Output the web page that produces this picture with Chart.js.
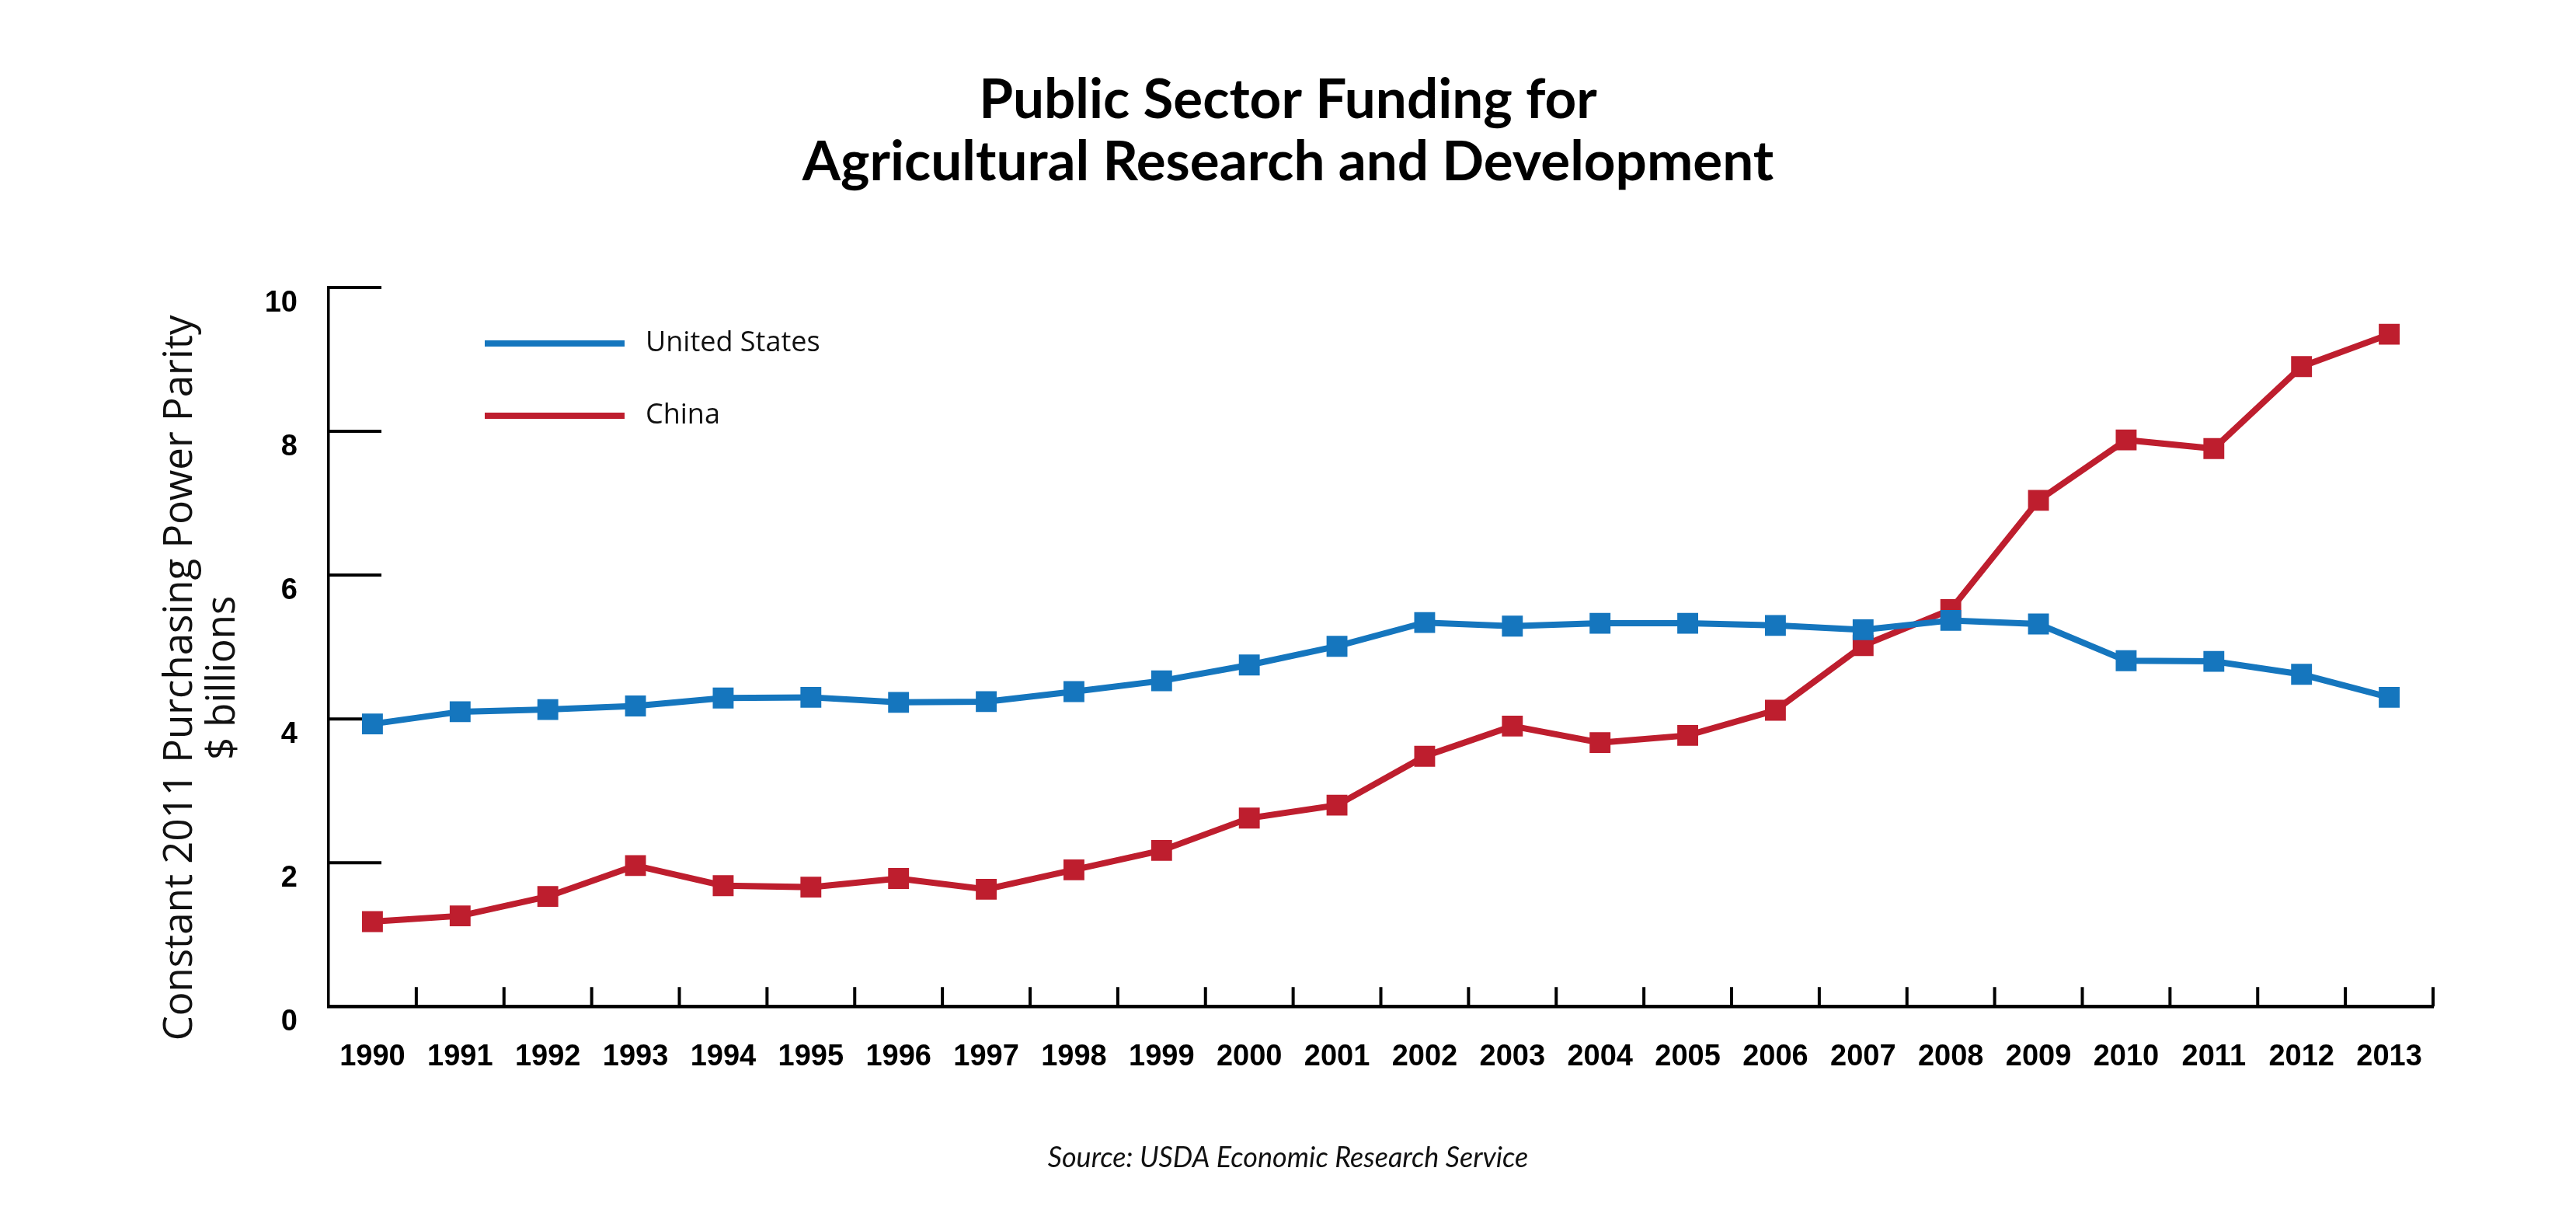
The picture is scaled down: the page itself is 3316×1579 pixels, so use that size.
<!DOCTYPE html>
<html>
<head>
<meta charset="utf-8">
<script src="https://cdn.jsdelivr.net/npm/chart.js@4.4.1/dist/chart.umd.min.js"></script>
<style>
  html, body { margin: 0; padding: 0; background: #fff; }
  #wrap { width: 3316px; height: 1579px; }
</style>
</head>
<body>
<div id="wrap"><canvas id="chart"></canvas></div>
<script>
// Public sector agricultural R&D funding, constant 2011 PPP $ billions
const YEARS = ["1990", "1991", "1992", "1993", "1994", "1995", "1996", "1997", "1998", "1999", "2000", "2001",
  "2002", "2003", "2004", "2005", "2006", "2007", "2008", "2009", "2010", "2011", "2012", "2013"];
const US = [3.93, 4.10, 4.13, 4.18, 4.29, 4.30, 4.23, 4.24, 4.38, 4.53, 4.75, 5.01,
  5.34, 5.29, 5.33, 5.33, 5.30, 5.24, 5.37, 5.32, 4.81, 4.80, 4.62, 4.30];
const CHINA = [1.18, 1.26, 1.53, 1.96, 1.68, 1.66, 1.78, 1.63, 1.90, 2.17, 2.62, 2.80,
  3.48, 3.90, 3.67, 3.77, 4.12, 5.02, 5.52, 7.04, 7.88, 7.76, 8.90, 9.35];
const SERIES = ["United States", "China"];
const Y_TICKS = [0, 2, 4, 6, 8, 10];

const BLUE = "#1576be";
const RED = "#be1e2e";
const LABEL_FONT = { family: "Liberation Sans, Arial, sans-serif", size: 38, weight: "bold", lineHeight: 1.2 };

// short tick marks pointing into the plot, under the lines
const innerTicks = {
  id: "innerTicks",
  beforeDatasetsDraw(chart) {
    const { ctx, chartArea: a, scales: { x, y } } = chart;
    ctx.save();
    ctx.strokeStyle = "#000";
    ctx.lineWidth = 4;
    ctx.beginPath();
    Y_TICKS.forEach((v) => {
      if (v === 0) return;
      const py = y.getPixelForValue(v);
      ctx.moveTo(a.left, py); ctx.lineTo(a.left + 68, py);
    });
    for (let i = 1; i <= YEARS.length; i++) {
      const px = x.getPixelForValue(i - 0.5);
      ctx.moveTo(px, a.bottom); ctx.lineTo(px, a.bottom - 25);
    }
    ctx.stroke();
    ctx.restore();
  },
};

// legend drawn inside the top-left of the plot
const insideLegend = {
  id: "insideLegend",
  afterDraw(chart) {
    const { ctx, chartArea: a } = chart;
    ctx.save();
    chart.data.datasets.forEach((ds, i) => {
      const ly = a.top + 72 + i * 93;
      ctx.strokeStyle = ds.borderColor;
      ctx.lineWidth = 8;
      ctx.beginPath();
      ctx.moveTo(a.left + 201, ly); ctx.lineTo(a.left + 381, ly);
      ctx.stroke();
      ctx.fillStyle = "#111";
      ctx.font = "36px 'Open Sans'";
      ctx.textBaseline = "middle";
      ctx.fillText(ds.label, a.left + 408, ly);
    });
    ctx.restore();
  },
};

const series = (label, data, color) => ({
  label, data, borderColor: color, backgroundColor: color, borderWidth: 8,
  pointStyle: "rect", pointRadius: 19, pointBorderWidth: 0, pointBackgroundColor: color, tension: 0,
});

new Chart(document.getElementById("chart"), {
  type: "line",
  data: {
    labels: YEARS,
    datasets: [series(SERIES[0], US, BLUE), series(SERIES[1], CHINA, RED)],
  },
  options: {
    responsive: true, maintainAspectRatio: false, animation: false,
    // symmetric side padding keeps title and source centred on the page
    layout: { padding: { left: 184, right: 184, top: 0, bottom: 40 } },
    plugins: {
      legend: { display: false },
      tooltip: { enabled: false },
      title: {
        display: true, color: "#000",
        text: ["Public Sector Funding for", "Agricultural Research and Development"],
        font: { family: "Lato", size: 71, weight: "bold", lineHeight: 1.127 },
        padding: { top: 89, bottom: 121 },
      },
      subtitle: {
        display: true, position: "bottom", color: "#111",
        text: "Source: USDA Economic Research Service",
        font: { family: "Lato", size: 36, style: "italic", lineHeight: 1.2 },
        padding: { top: 42, bottom: 27 },
      },
    },
    scales: {
      x: {
        offset: true,
        grid: { display: false, drawTicks: false },
        border: { display: true, color: "#000", width: 4.5 },
        ticks: { color: "#000", font: LABEL_FONT, padding: 43, autoSkip: false, maxRotation: 0 },
      },
      y: {
        min: 0, max: 10,
        afterBuildTicks: (s) => { s.ticks = Y_TICKS.map((v) => ({ value: v })); },
        afterFit: (s) => { s.width = 239; },
        grid: { display: false, drawTicks: false },
        border: { display: true, color: "#000", width: 3.5 },
        ticks: { color: "#000", font: LABEL_FONT, padding: 40, labelOffset: 20 },
        title: {
          display: true, color: "#111",
          text: ["Constant 2011 Purchasing Power Parity      ", "$ billions      "],
          font: { family: "Open Sans", size: 51, lineHeight: 1.08 },
          padding: { top: 21, bottom: 0 },
        },
      },
    },
  },
  plugins: [innerTicks, insideLegend],
});
</script>
</body>
</html>
